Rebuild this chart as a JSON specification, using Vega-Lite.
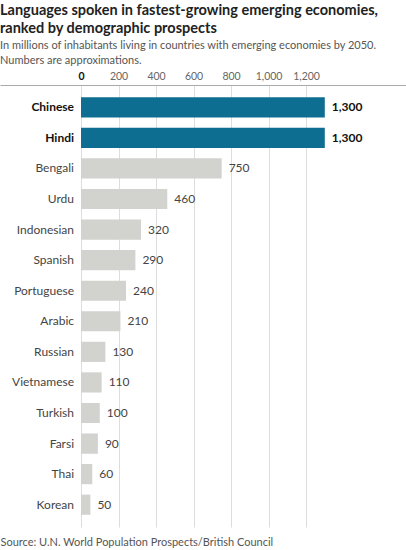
{
  "$schema": "https://vega.github.io/schema/vega-lite/v6.json",
  "width": 406,
  "height": 550,
  "autosize": {"type": "fit", "contains": "padding"},
  "padding": {"left": 0, "right": 0, "top": 3, "bottom": 3},
  "background": "white",
  "config": {
    "view": {"stroke": null},
    "font": "Lato"
  },
  "title": {
    "text": ["Languages spoken in fastest-growing emerging economies,", "ranked by demographic prospects"],
    "subtitle": ["In millions of inhabitants living in countries with emerging economies by 2050.", "Numbers are approximations."],
    "anchor": "start",
    "frame": "group",
    "font": "Lato",
    "fontSize": 14.5,
    "fontWeight": "bold",
    "color": "#222222",
    "lineHeight": 17.5,
    "subtitleFont": "Lato",
    "subtitleFontSize": 11,
    "subtitleColor": "#555555",
    "subtitleLineHeight": 15,
    "subtitlePadding": 4,
    "offset": 4
  },
  "data": {
    "values": [
      {"language": "Chinese", "value": 1300},
      {"language": "Hindi", "value": 1300},
      {"language": "Bengali", "value": 750},
      {"language": "Urdu", "value": 460},
      {"language": "Indonesian", "value": 320},
      {"language": "Spanish", "value": 290},
      {"language": "Portuguese", "value": 240},
      {"language": "Arabic", "value": 210},
      {"language": "Russian", "value": 130},
      {"language": "Vietnamese", "value": 110},
      {"language": "Turkish", "value": 100},
      {"language": "Farsi", "value": 90},
      {"language": "Thai", "value": 60},
      {"language": "Korean", "value": 50}
    ]
  },
  "encoding": {
    "y": {
      "field": "language",
      "type": "nominal",
      "sort": null,
      "axis": null,
      "scale": {"paddingInner": 0.34, "paddingOuter": 0.4}
    }
  },
  "resolve": {"axis": {"x": "independent"}},
  "layer": [
    {
      "mark": {"type": "bar"},
      "encoding": {
        "x": {
          "field": "value",
          "type": "quantitative",
          "scale": {"domain": [-432, 1733], "nice": false, "zero": false},
          "axis": {
            "orient": "top",
            "title": null,
            "values": [0, 200, 400, 600, 800, 1000, 1200],
            "format": ",.0f",
            "grid": true,
            "gridColor": "#dddddd",
            "gridWidth": 1,
            "domain": true,
            "domainColor": "#aaaaaa",
            "domainWidth": 1,
            "ticks": false,
            "labelPadding": 4,
            "labelFont": "Lato",
            "labelFontSize": 10.5,
            "labelColor": {"expr": "datum.value === 0 ? '#111111' : '#666666'"},
            "labelFontWeight": {"expr": "datum.value === 0 ? 'bold' : 'normal'"}
          }
        },
        "color": {
          "condition": {"test": "datum.value >= 1000", "value": "#0e6e91"},
          "value": "#d2d2cf"
        }
      }
    },
    {
      "transform": [{"filter": "datum.value < 1000"}],
      "mark": {"type": "text", "align": "left", "baseline": "middle", "dx": 7, "fontSize": 12, "color": "#444444"},
      "encoding": {
        "x": {"field": "value", "type": "quantitative", "axis": null},
        "text": {"field": "value", "type": "quantitative", "format": ",.0f"}
      }
    },
    {
      "transform": [{"filter": "datum.value >= 1000"}],
      "mark": {"type": "text", "align": "left", "baseline": "middle", "dx": 7, "fontSize": 12, "fontWeight": "bold", "color": "#111111"},
      "encoding": {
        "x": {"field": "value", "type": "quantitative", "axis": null},
        "text": {"field": "value", "type": "quantitative", "format": ",.0f"}
      }
    },
    {
      "transform": [{"filter": "datum.value < 1000"}],
      "mark": {"type": "text", "align": "right", "baseline": "middle", "dx": -7, "fontSize": 12, "color": "#444444"},
      "encoding": {
        "x": {"datum": 0, "axis": null},
        "text": {"field": "language", "type": "nominal"}
      }
    },
    {
      "transform": [{"filter": "datum.value >= 1000"}],
      "mark": {"type": "text", "align": "right", "baseline": "middle", "dx": -7, "fontSize": 12, "fontWeight": "bold", "color": "#111111"},
      "encoding": {
        "x": {"datum": 0, "axis": null},
        "text": {"field": "language", "type": "nominal"}
      }
    },
    {
      "mark": {"type": "rule", "color": "#999999", "strokeWidth": 1},
      "encoding": {
        "x": {
          "datum": 0,
          "type": "quantitative",
          "axis": {
            "orient": "bottom",
            "title": "Source: U.N. World Population Prospects/British Council",
            "titleAnchor": "start",
            "titleAlign": "left",
            "titleFont": "Lato",
            "titleFontSize": 11,
            "titleFontWeight": "normal",
            "titleColor": "#555555",
            "titlePadding": 9,
            "labels": false,
            "ticks": false,
            "domain": false,
            "grid": false
          }
        }
      }
    }
  ]
}
